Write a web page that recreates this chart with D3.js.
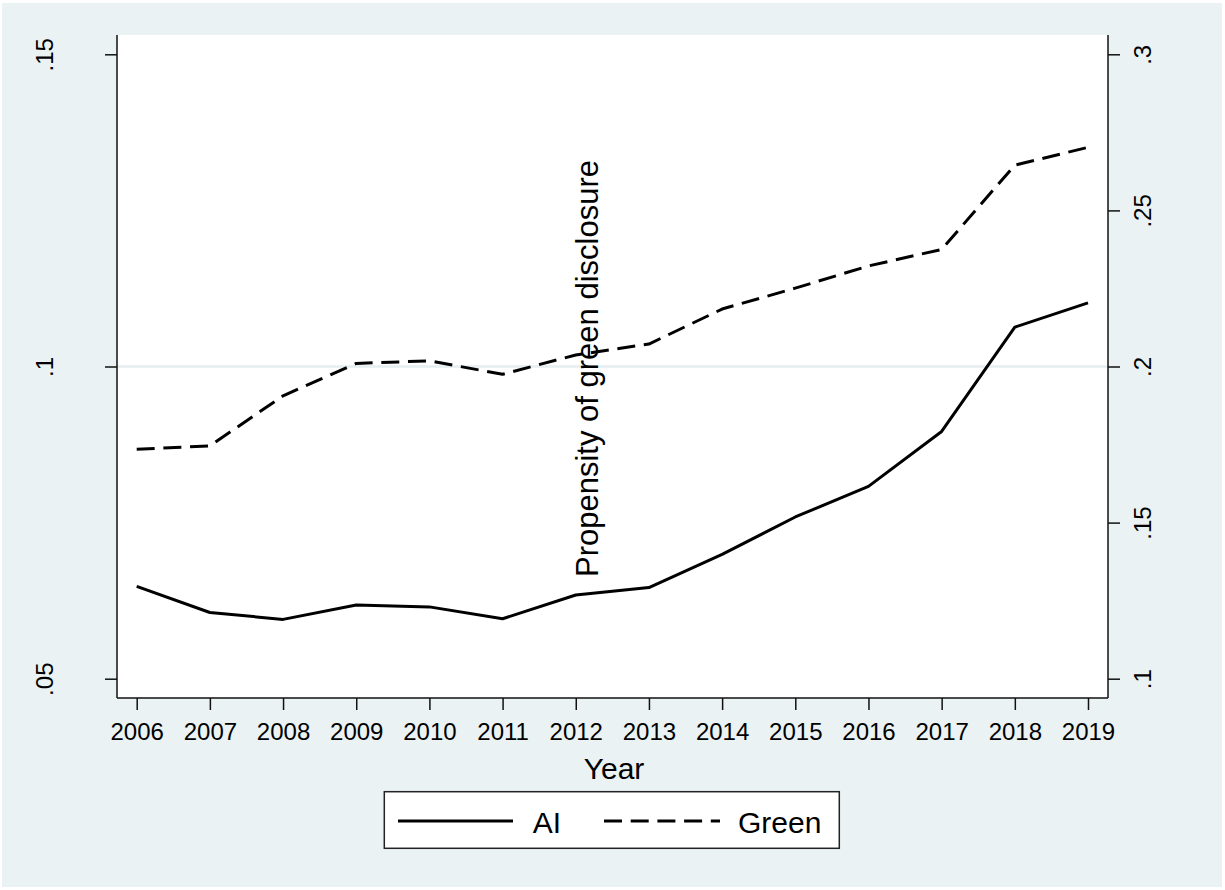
<!DOCTYPE html>
<html>
<head>
<meta charset="utf-8">
<script src="https://cdn.jsdelivr.net/npm/d3@7"></script>
<style>
  html, body { margin: 0; padding: 0; background: #ffffff; }
  svg { display: block; }
  text { font-family: "Liberation Sans", Arial, sans-serif; fill: #000; }
</style>
</head>
<body>
<svg id="chart" width="1225" height="890"></svg>
<script>
// ---- data ----
const years = [2006, 2007, 2008, 2009, 2010, 2011, 2012, 2013, 2014, 2015, 2016, 2017, 2018, 2019];
const aiValues = [0.0648, 0.0606, 0.0595, 0.0618, 0.0615, 0.0596, 0.0634, 0.0646, 0.0699, 0.0759, 0.0808, 0.0896, 0.1063, 0.1102];
const greenValues = [0.1735, 0.1746, 0.1906, 0.2010, 0.2018, 0.1975, 0.2037, 0.2072, 0.2184, 0.2251, 0.2322, 0.2375, 0.2645, 0.2702];
const leftTicks = [0.05, 0.1, 0.15];
const leftTickLabels = [".05", ".1", ".15"];
const rightTicks = [0.1, 0.15, 0.2, 0.25, 0.3];
const rightTickLabels = [".1", ".15", ".2", ".25", ".3"];
const seriesNames = ["AI", "Green"];
const xTitle = "Year";
const yTitle = "Propensity of green disclosure";

// ---- layout ----
const svg = d3.select("#chart");
const plot = { left: 117, right: 1108, top: 35, bottom: 698 };
const bg = "#eaf2f3";

svg.append("rect").attr("x", 2).attr("y", 3).attr("width", 1220).attr("height", 884).attr("fill", bg);
svg.append("rect").attr("x", plot.left).attr("y", plot.top)
  .attr("width", plot.right - plot.left).attr("height", plot.bottom - plot.top).attr("fill", "#ffffff");

const x = d3.scaleLinear().domain([2006, 2019]).range([136.7, 1088]);
const yL = d3.scaleLinear().domain([0.05, 0.15]).range([678.7, 54.3]);
const yR = d3.scaleLinear().domain([0.1, 0.3]).range([678.7, 54.3]);

// grid line (interior left tick)
svg.append("g").selectAll("line").data(leftTicks.filter(d => d > 0.05 && d < 0.15)).join("line")
  .attr("x1", plot.left).attr("x2", plot.right)
  .attr("y1", d => yL(d)).attr("y2", d => yL(d))
  .attr("stroke", "#e6eef0").attr("stroke-width", 2.5);

// axes
const axisColor = "#111";
const fs = 24;
const leftAxis = d3.axisLeft(yL).tickValues(leftTicks).tickSize(12).tickFormat((d, i) => leftTickLabels[i]);
const gL = svg.append("g").attr("transform", `translate(${plot.left},0)`).call(leftAxis);
gL.select(".domain").attr("d", `M0,${plot.top}V${plot.bottom}`);
gL.selectAll("text").remove();
gL.selectAll(".tick").append("text")
  .attr("transform", "translate(-64,0) rotate(-90)")
  .attr("text-anchor", "middle").attr("font-size", fs)
  .text((d, i) => leftTickLabels[i]);

const rightAxis = d3.axisRight(yR).tickValues(rightTicks).tickSize(12).tickFormat((d, i) => rightTickLabels[i]);
const gR = svg.append("g").attr("transform", `translate(${plot.right},0)`).call(rightAxis);
gR.select(".domain").attr("d", `M0,${plot.top}V${plot.bottom}`);
gR.selectAll("text").remove();
gR.selectAll(".tick").append("text")
  .attr("transform", "translate(43,0) rotate(-90)")
  .attr("text-anchor", "middle").attr("font-size", fs)
  .text((d, i) => rightTickLabels[i]);

const bottomAxis = d3.axisBottom(x).tickValues(years).tickSize(12).tickFormat(d3.format("d"));
const gB = svg.append("g").attr("transform", `translate(0,${plot.bottom})`).call(bottomAxis);
gB.select(".domain").attr("d", `M${plot.left},0H${plot.right}`);
gB.selectAll("text").attr("font-size", fs).attr("font-family", "Liberation Sans, Arial, sans-serif")
  .attr("fill", "#000").attr("dy", null).attr("y", 42);

svg.selectAll(".domain").attr("stroke", axisColor).attr("stroke-width", 1.5);
svg.selectAll(".tick line").attr("stroke", axisColor).attr("stroke-width", 1.5);

// lines
const lineAI = d3.line().x((d, i) => x(years[i])).y(d => yL(d));
const lineGreen = d3.line().x((d, i) => x(years[i])).y(d => yR(d));
svg.append("path").datum(aiValues).attr("d", lineAI)
  .attr("fill", "none").attr("stroke", "#000").attr("stroke-width", 3).attr("stroke-linejoin", "round");
svg.append("path").datum(greenValues).attr("d", lineGreen)
  .attr("fill", "none").attr("stroke", "#000").attr("stroke-width", 3)
  .attr("stroke-dasharray", "18 8.7").attr("stroke-linejoin", "round");

// titles
svg.append("text").attr("x", 614).attr("y", 779).attr("text-anchor", "middle")
  .attr("font-size", 30).text(xTitle);
svg.append("text").attr("transform", "translate(598,368.5) rotate(-90)").attr("text-anchor", "middle")
  .attr("font-size", 31).text(yTitle);

// legend
const lg = svg.append("g");
lg.append("rect").attr("x", 384.3).attr("y", 791.7).attr("width", 455).attr("height", 56.6)
  .attr("fill", "#fff").attr("stroke", "#222").attr("stroke-width", 1.5);
lg.append("line").attr("x1", 398).attr("x2", 513).attr("y1", 821).attr("y2", 821)
  .attr("stroke", "#000").attr("stroke-width", 3);
lg.append("text").attr("x", 532.7).attr("y", 833).attr("font-size", 30).text(seriesNames[0]);
lg.append("line").attr("x1", 604).attr("x2", 720).attr("y1", 821).attr("y2", 821)
  .attr("stroke", "#000").attr("stroke-width", 3).attr("stroke-dasharray", "18 8.7");
lg.append("text").attr("x", 738).attr("y", 833).attr("font-size", 30).text(seriesNames[1]);
</script>
</body>
</html>
